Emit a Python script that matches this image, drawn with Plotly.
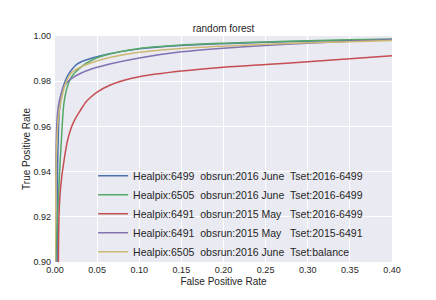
import plotly.graph_objects as go

# ---- data ----
blue_fpr = [0.0, 0.0022, 0.0025, 0.003, 0.004, 0.005, 0.0065, 0.0085, 0.011, 0.015, 0.02, 0.025, 0.03, 0.044, 0.065, 0.1, 0.15, 0.2, 0.25, 0.3, 0.35, 0.4]
blue_tpr = [0.0, 0.88, 0.90, 0.94, 0.957, 0.966, 0.972, 0.976, 0.979, 0.9825, 0.9852, 0.9872, 0.9884, 0.9903, 0.9922, 0.9943, 0.9958, 0.9966, 0.9972, 0.9977, 0.9981, 0.9985]

green_fpr = [0.0, 0.0008, 0.001, 0.003, 0.0055, 0.0085, 0.0105, 0.0135, 0.0165, 0.0202, 0.03, 0.044, 0.065, 0.1, 0.15, 0.2, 0.25, 0.3, 0.35, 0.4]
green_tpr = [0.0, 0.88, 0.90, 0.92, 0.94, 0.96, 0.97, 0.976, 0.9795, 0.9822, 0.986, 0.9894, 0.992, 0.9945, 0.996, 0.9968, 0.9974, 0.9979, 0.9983, 0.9987]

red_fpr = [0.0, 0.0035, 0.004, 0.0047, 0.006, 0.008, 0.0091, 0.012, 0.015, 0.018, 0.021, 0.025, 0.03, 0.036, 0.042, 0.05, 0.065, 0.08, 0.1, 0.15, 0.2, 0.25, 0.3, 0.35, 0.4]
red_tpr = [0.0, 0.88, 0.90, 0.92, 0.93, 0.9377, 0.9407, 0.948, 0.954, 0.958, 0.961, 0.964, 0.967, 0.9705, 0.9728, 0.9752, 0.9782, 0.9802, 0.982, 0.9845, 0.9862, 0.9874, 0.9886, 0.9899, 0.9913]

purple_fpr = [0.0, 0.0, 0.001, 0.002, 0.004, 0.007, 0.01, 0.015, 0.02, 0.03, 0.044, 0.065, 0.1, 0.15, 0.2, 0.25, 0.3, 0.35, 0.4]
purple_tpr = [0.0, 0.90, 0.94, 0.96, 0.969, 0.974, 0.9772, 0.9798, 0.9813, 0.9834, 0.9855, 0.9876, 0.9903, 0.993, 0.9946, 0.9958, 0.9968, 0.9977, 0.9984]

yellow_fpr = [0.0, 0.0, 0.001, 0.002, 0.0036, 0.0055, 0.0075, 0.01, 0.0125, 0.016, 0.0202, 0.03, 0.044, 0.065, 0.1, 0.15, 0.2, 0.25, 0.3, 0.35, 0.4]
yellow_tpr = [0.0, 0.90, 0.935, 0.952, 0.962, 0.968, 0.972, 0.976, 0.979, 0.9818, 0.9839, 0.9862, 0.9883, 0.9905, 0.9928, 0.9945, 0.9955, 0.9963, 0.997, 0.9975, 0.998]

S = "\u00a0"
labels = [
    "Healpix:6499" + S*2 + "obsrun:2016 June" + S*2 + "Tset:2016-6499",
    "Healpix:6505" + S*2 + "obsrun:2016 June" + S*2 + "Tset:2016-6499",
    "Healpix:6491" + S*2 + "obsrun:2015 May" + S*3 + "Tset:2016-6499",
    "Healpix:6491" + S*2 + "obsrun:2015 May" + S*3 + "Tset:2015-6491",
    "Healpix:6505" + S*2 + "obsrun:2016 June" + S*2 + "Tset:balance",
]
colors = ["#4C72B0", "#55A868", "#C44E52", "#8172B2", "#CCB974"]

x_ticks = [0.0, 0.05, 0.10, 0.15, 0.20, 0.25, 0.30, 0.35, 0.40]
y_ticks = [0.90, 0.92, 0.94, 0.96, 0.98, 1.00]

series = [(blue_fpr, blue_tpr), (green_fpr, green_tpr), (red_fpr, red_tpr),
          (purple_fpr, purple_tpr), (yellow_fpr, yellow_tpr)]

fig = go.Figure()
for (xs, ys), name, c in zip(series, labels, colors):
    fig.add_trace(go.Scatter(x=xs, y=ys, mode="lines", name=name,
                             line=dict(color=c, width=1.5, shape="spline", smoothing=0.8)))

FONT = "Liberation Sans, Arial, sans-serif"
# the page body has an 8px default margin, so margins are reduced by 8px at left/top
fig.update_layout(
    width=436, height=300,
    margin=dict(l=47, r=52, t=28, b=46, autoexpand=False),
    paper_bgcolor="white",
    plot_bgcolor="#EAEAF2",
    font=dict(family=FONT, size=10, color="#262626"),
    title=dict(text="random forest", x=(55 - 8 + 168.5) / 436, xanchor="center",
               yref="container", y=0.932, yanchor="middle",
               pad=dict(t=0, b=0),
               font=dict(size=10, color="#262626")),
    showlegend=True,
    legend=dict(x=0.113, xanchor="left", y=0.214, yanchor="middle",
                bgcolor="rgba(0,0,0,0)", font=dict(size=10.5, color="#262626"),
                itemwidth=30),
)
fig.update_xaxes(range=[0, 0.4], tickvals=x_ticks, tickformat=".2f", automargin=False,
                 showgrid=True, gridcolor="white", gridwidth=1, zeroline=False,
                 showline=False, ticks="", tickfont=dict(size=9),
                 ticklabelstandoff=1,
                 title=dict(text="False Positive Rate", font=dict(size=10), standoff=3))
fig.update_yaxes(range=[0.9, 1.0], tickvals=y_ticks, tickformat=".2f", automargin=False,
                 showgrid=True, gridcolor="white", gridwidth=1, zeroline=False,
                 showline=False, ticks="", tickfont=dict(size=9),
                 ticklabelstandoff=3,
                 title=dict(text="True Positive Rate", font=dict(size=10), standoff=0))

fig.write_html("out.html")
